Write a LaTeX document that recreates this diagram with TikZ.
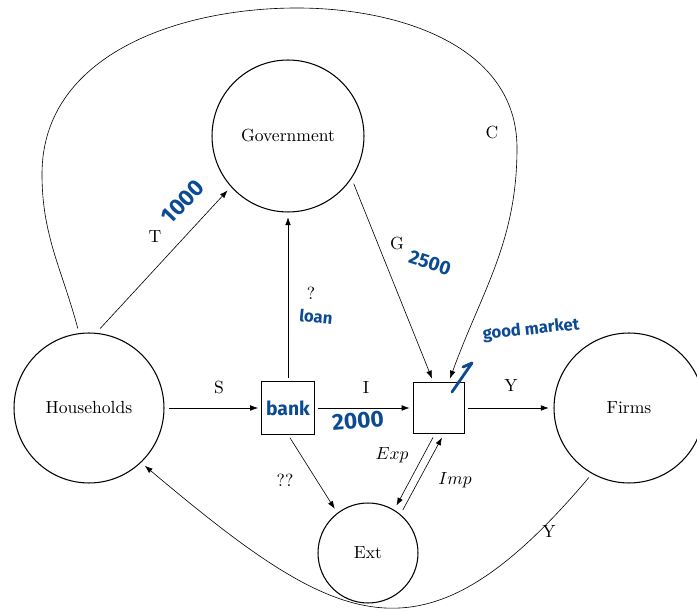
\documentclass[tikz,border=0pt]{standalone}
\usepackage{fontspec}
\usepackage{xcolor}
\usepackage{tikz}
\usetikzlibrary{calc,arrows.meta}
\newfontfamily\handfont{Fira Sans}
\definecolor{inkc}{HTML}{0B4A94}
\tikzset{
  ar/.style={-{Latex[length=4.5pt,width=3.2pt]},line width=0.35pt},
  sector/.style={draw,circle,semithick,outer sep=3pt,inner sep=0pt},
  box/.style={draw,semithick,minimum size=30pt,inner sep=0pt,outer sep=2pt},
  lab/.style={font=\normalsize},
  handL/.style={text=inkc,font=\handfont\bfseries\fontsize{13}{13}\selectfont},
  handM/.style={text=inkc,font=\handfont\bfseries\fontsize{11}{11}\selectfont},
  handS/.style={text=inkc,font=\handfont\bfseries\fontsize{9.5}{9.5}\selectfont}
}
\begin{document}
\begin{tikzpicture}[x=0.02cm,y=0.02cm]
\useasboundingbox (0,0) rectangle (697,612);
% sectors
\node[sector,minimum size=3cm] (hh) at (89,204) {Households};
\node[sector,minimum size=3.04cm] (gov) at (288,476) {Government};
\node[sector,minimum size=3cm] (fm) at (629,204) {Firms};
\node[sector,minimum size=2cm] (ext) at (368,59) {Ext};
\node[box,handM] (bank) at (288,204) {bank};
\node[box,minimum size=29.5pt] (mk) at (439,204) {};
% flows
\draw[ar] (hh) -- (bank);
\draw[ar] (bank) -- (mk);
\draw[ar] (mk) -- (fm);
\draw[ar] (bank) -- (gov);
\draw[ar] (hh.82) -- (gov.222);
\draw[ar] (gov.-36) -- ($(mk.north)+(-7,0)$);
\draw[ar] (hh.98) to[out=105,in=270] (42,438) to[out=90,in=180] (297,604)
  to[out=0,in=90] (517,464) to[out=270,in=70] ($(mk.north)+(11,0)$);
\draw[ar] ($(bank.south)+(2,0)$) -- (ext.127);
\draw[ar] ($(mk.south)+(-6,0)$) -- (ext.59);
\draw[ar] (ext.51) -- ($(mk.south)+(3,0)$);
\draw[ar] (fm.240) .. controls (423,-62) and (340,-18) .. (hh.-46);
% labels
\node[lab] (tl) at (155,375) {T};
\node[lab] (ql) at (311,319) {?};
\node[lab] (gl) at (397,368) {G};
\node[lab] (cl) at (492,479) {C};
\node[lab] (sl) at (219,224) {S};
\node[lab] (il) at (366,224) {I};
\node[lab] (yl) at (511,226) {Y};
\node[lab] (el) at (392,157) {$Exp$};
\node[lab] (ml) at (455,132) {$Imp$};
\node[lab] (ql2) at (285,132) {??};
\node[lab] (yl2) at (549,80) {Y};
% notes
\node[handL,rotate=46] (tn) at (183,410) {1000};
\node[handM,rotate=-18] (gn) at (430,349) {2500};
\node[handS,rotate=-6] (ln) at (316,295) {loan};
\node[handL,rotate=5] (in) at (358,191) {2000};
\node[handS,rotate=6] (mn) at (531,282) {good market};
\draw[inkc,line width=1.6pt,line cap=round,line join=round] (463,245) -- (472,249) -- (452,220);
\end{tikzpicture}
\end{document}
